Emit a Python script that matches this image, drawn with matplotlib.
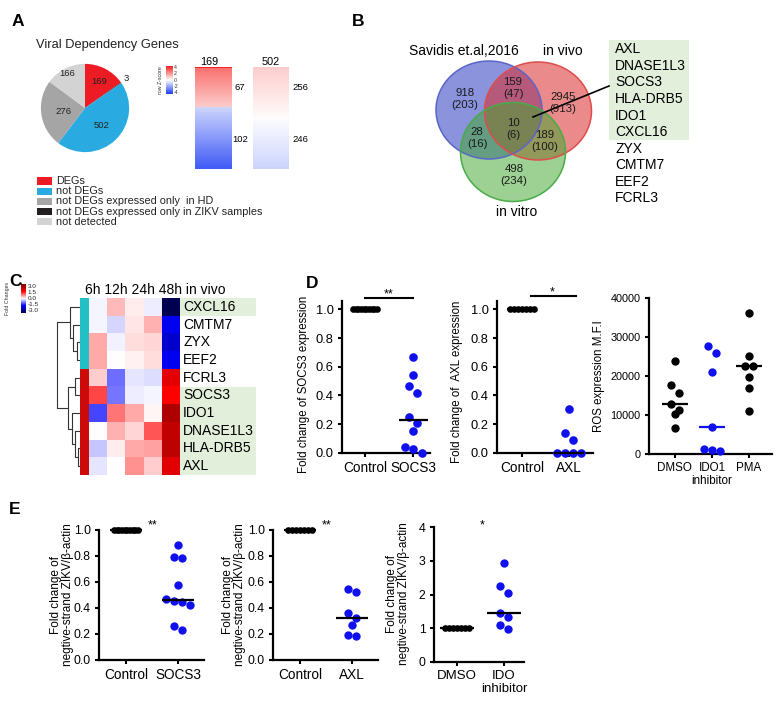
import numpy as np
import matplotlib
matplotlib.use('Agg')
import matplotlib.pyplot as plt
from matplotlib.patches import Ellipse, Rectangle
from matplotlib.colors import LinearSegmentedColormap, ListedColormap

plt.rcParams['font.family'] = ['Liberation Sans', 'DejaVu Sans']

# ======================= DATA =======================
# Panel A
vdg_title = 'Viral Dependency Genes'
vdg_categories = ['DEGs', 'not DEGs', 'not DEGs expressed only  in HD',
                  'not DEGs expressed only in ZIKV samples', 'not detected']
vdg_counts = [169, 502, 276, 3, 166]
vdg_colors = ['#ed1c24', '#29abe2', '#a5a5a5', '#231f20', '#d3d3d3']
pie_order = [0, 3, 1, 2, 4]

bar_totals = [169, 502]
bar_up = [67, 256]
bar_down = [102, 246]
bar_up_z = [(2.6, 0.9), (0.9, 0.05)]
bar_down_z = [(-0.9, -3.4), (-0.05, -0.9)]
bar_top_z = [4.0, None]
zscore_ticks = [4, 2, 0, -2, -4]

# Panel B
venn_sets = ['Savidis et.al,2016', 'in vivo', 'in vitro']
venn_regions = ['100', '110', '010', '111', '101', '011', '001']
venn_all = [918, 159, 2945, 10, 28, 189, 498]
venn_deg = [203, 47, 913, 6, 16, 100, 234]
core_genes = ['AXL', 'DNASE1L3', 'SOCS3', 'HLA-DRB5', 'IDO1', 'CXCL16',
              'ZYX', 'CMTM7', 'EEF2', 'FCRL3']
n_core_highlight = 6

# Panel C
hm_genes = ['CXCL16', 'CMTM7', 'ZYX', 'EEF2', 'FCRL3', 'SOCS3', 'IDO1',
            'DNASE1L3', 'HLA-DRB5', 'AXL']
hm_cols = ['6h', '12h', '24h', '48h', 'in vivo']
hm_values = np.array([
    [-0.05, 0.40, 0.10, -0.10, -3.00],
    [-0.05, -0.25, 0.15, 0.45, -1.60],
    [0.50, -0.08, 0.20, 0.25, -1.90],
    [0.50, 0.00, 0.08, 0.20, -1.60],
    [0.30, -0.85, -0.15, -0.20, 1.80],
    [1.10, -0.80, -0.10, -0.05, 1.50],
    [-1.10, 0.80, 0.50, 0.05, 2.45],
    [0.00, 0.45, 0.25, 1.00, 2.20],
    [-0.35, 0.10, 0.50, 0.55, 2.25],
    [-0.15, 0.00, 0.65, 0.30, 1.85]])
hm_cluster = [0, 0, 0, 0, 1, 1, 1, 1, 1, 1]
hm_highlight = ['CXCL16', 'SOCS3', 'IDO1', 'DNASE1L3', 'HLA-DRB5', 'AXL']
hm_tree = (23.5, (10, 'CXCL16', (7, 'CMTM7', (3, 'ZYX', 'EEF2'))),
           (12, (5, 'FCRL3', 'SOCS3'),
            (8, 'IDO1', (5, 'DNASE1L3', (2, 'HLA-DRB5', 'AXL')))))
fc_ticks = [3.0, 1.5, 0.0, -1.5, -3.0]

# Panel D
d1_groups = ['Control', 'SOCS3']
d1_control = [1.0] * 10
d1_socs3 = [0.665, 0.54, 0.467, 0.42, 0.25, 0.21, 0.153, 0.042, 0.026, 0.0]
d2_groups = ['Control', 'AXL']
d2_control = [1.0] * 7
d2_axl = [0.305, 0.135, 0.088, 0.0, 0.0, 0.0, 0.0]
d3_groups = ['DMSO', 'IDO1\ninhibitor', 'PMA']
d3_dmso = [23950, 17730, 15540, 12860, 11340, 10250, 6640]
d3_ido1 = [27800, 26000, 21000, 7000, 1200, 900, 800]
d3_pma = [36100, 25200, 22600, 22600, 19750, 16800, 11100]

# Panel E
e1_groups = ['Control', 'SOCS3']
e1_control = [1.0] * 10
e1_socs3 = [0.885, 0.795, 0.782, 0.577, 0.467, 0.456, 0.444, 0.42, 0.26, 0.23]
e2_groups = ['Control', 'AXL']
e2_control = [1.0] * 7
e2_axl = [0.549, 0.52, 0.364, 0.326, 0.267, 0.19, 0.185]
e3_groups = ['DMSO', 'IDO\ninhibitor']
e3_dmso = [1.0] * 7
e3_ido = [2.95, 2.25, 2.04, 1.46, 1.34, 1.09, 0.96]

# ======================= FIGURE =======================
W, H = 781, 702
fig = plt.figure(figsize=(W / 100, H / 100), dpi=100)


def px_axes(x0, y0, x1, y1):
    return fig.add_axes([x0 / W, 1 - y1 / H, (x1 - x0) / W, (y1 - y0) / H])


BLUE = '#1010ee'

# ---------- Panel A: pie ----------
axp = px_axes(40, 63, 130, 153)
pvals = [vdg_counts[i] for i in pie_order]
pcols = [vdg_colors[i] for i in pie_order]
wedges, _ = axp.pie(pvals, colors=pcols, startangle=90, counterclock=False,
                    wedgeprops=dict(edgecolor='none', linewidth=0))
axp.set_xlim(-1.02, 1.02)
axp.set_ylim(-1.02, 1.02)
axp.set_aspect('equal')
lab_r = [0.68, 1.15, 0.55, 0.5, 0.88]
for w, v, r in zip(wedges, pvals, lab_r):
    a = np.deg2rad((w.theta1 + w.theta2) / 2)
    axp.text(r * np.cos(a), r * np.sin(a), str(v), ha='center', va='center',
             fontsize=6.8, color='#222222')

# ---------- Panel A: z-score bars ----------
cmap_z = LinearSegmentedColormap.from_list('z', ['#1f3ff5', '#ffffff', '#f5231f'])
for k, (x0, x1) in enumerate([(195, 232), (253, 289)]):
    ax = px_axes(x0, 67, x1, 169)
    up = np.linspace(bar_up_z[k][0], bar_up_z[k][1], bar_up[k])
    if bar_top_z[k] is not None:
        up[:2] = bar_top_z[k]
    dn = np.linspace(bar_down_z[k][0], bar_down_z[k][1], bar_down[k])
    col = np.concatenate([up, dn]).reshape(-1, 1)
    ax.imshow(col, cmap=cmap_z, vmin=-4, vmax=4, aspect='auto',
              interpolation='nearest')
    ax.axis('off')

axc = px_axes(166, 66, 173, 94)
axc.imshow(np.linspace(4, -4, 60).reshape(-1, 1), cmap=cmap_z, vmin=-4, vmax=4,
           aspect='auto', interpolation='bilinear')
axc.axis('off')

# ---------- Panel C: heatmap ----------
cmap_fc = LinearSegmentedColormap.from_list(
    'fc', [(0, '#000050'), (0.25, '#0000ff'), (0.5, '#ffffff'),
           (0.75, '#ff0000'), (1.0, '#800000')])
HM_TOP, HM_BOT = 298, 475
axh = px_axes(89, HM_TOP, 180, HM_BOT)
axh.imshow(hm_values, cmap=cmap_fc, vmin=-3, vmax=3, aspect='auto',
           interpolation='nearest')
axh.axis('off')

axs = px_axes(80, HM_TOP, 89, HM_BOT)
axs.imshow(np.array(hm_cluster).reshape(-1, 1),
           cmap=ListedColormap(['#22c0c4', '#cc0a0a']), aspect='auto',
           interpolation='nearest')
axs.axis('off')

axd = px_axes(54, HM_TOP, 80, HM_BOT)
axd.set_xlim(26, 0)
axd.set_ylim(len(hm_genes), 0)
axd.axis('off')
leaf_pos = {g: i + 0.5 for i, g in enumerate(hm_genes)}


def draw_tree(node):
    if isinstance(node, str):
        return leaf_pos[node], 0.0
    h, left, right = node
    y1, h1 = draw_tree(left)
    y2, h2 = draw_tree(right)
    axd.plot([h1, h, h, h2], [y1, y1, y2, y2], color='#333333', lw=0.8,
             solid_capstyle='butt')
    return (y1 + y2) / 2, h


draw_tree(hm_tree)

axfc = px_axes(21, 284, 26, 313)
axfc.imshow(np.linspace(3, -3, 60).reshape(-1, 1), cmap=cmap_fc, vmin=-3,
            vmax=3, aspect='auto', interpolation='bilinear')
axfc.axis('off')


# ---------- dot plot helper ----------
def swarm_offsets(vals, d_px, ppu_y, max_half=12.0):
    vals = np.asarray(vals, dtype=float)
    order = np.argsort(-vals, kind='stable')
    rows, cur = [], []
    for i in order:
        if cur and (vals[cur[0]] - vals[i]) * ppu_y >= d_px * 1.05:
            rows.append(cur)
            cur = []
        cur.append(i)
    if cur:
        rows.append(cur)
    offs = np.zeros(len(vals))
    for row in rows:
        n = len(row)
        if n < 2:
            continue
        sp = min(d_px, 2 * max_half / (n - 1))
        o = (np.arange(n) - (n - 1) / 2) * sp
        for k, i in enumerate(row):
            offs[i] = o[k]
    return offs


def dot_panel(x0, x1, y_zero, ppu_y, ylim, xlim, groups, data, colors,
              msizes, med_colors, med_hw, yticks, yticklabels, tick_fs,
              cat_fs):
    y_top = y_zero - (ylim[1] - ylim[0]) * ppu_y
    ax = px_axes(x0, y_top, x1, y_zero)
    ax.set_xlim(xlim)
    ax.set_ylim(ylim)
    ppu_x = (x1 - x0) / (xlim[1] - xlim[0])
    for i, vals in enumerate(data):
        d = msizes[i] * 100 / 72
        offs = swarm_offsets(vals, d, ppu_y)
        ax.plot(i + offs / ppu_x, vals, 'o', ms=msizes[i], color=colors[i],
                mec='none', clip_on=False, zorder=3)
        med = np.median(vals)
        ax.plot([i - med_hw, i + med_hw], [med, med], color=med_colors[i],
                lw=1.6, clip_on=False, zorder=4, solid_capstyle='butt')
    for s in ['top', 'right']:
        ax.spines[s].set_visible(False)
    for s in ['left', 'bottom']:
        ax.spines[s].set_linewidth(1.6)
    ax.tick_params(width=1.5, length=3, direction='out', pad=3,
                   labelsize=tick_fs)
    ax.set_xticks(range(len(groups)))
    ax.set_xticklabels(groups, fontsize=cat_fs, linespacing=1.1)
    ax.set_yticks(yticks)
    ax.set_yticklabels(yticklabels)
    ax.set_facecolor('none')
    return ax


frac_ticks = [0, 0.2, 0.4, 0.6, 0.8, 1.0]
frac_labels = ['%.1f' % t for t in frac_ticks]

# Panel D
dot_panel(342, 430, 452.7, 143.3, (0, 1.06), (-0.48, 1.35), d1_groups,
          [d1_control, d1_socs3], ['black', BLUE], [4.8, 6.2],
          ['black', 'black'], 0.3, frac_ticks, frac_labels, 9.3, 9.8)
dot_panel(497, 593, 452.7, 143.3, (0, 1.06), (-0.53, 1.51), d2_groups,
          [d2_control, d2_axl], ['black', BLUE], [4.8, 6.2],
          ['black', 'black'], 0.32, frac_ticks, frac_labels, 9.3, 9.8)
ros_ticks = [0, 10000, 20000, 30000, 40000]
dot_panel(649, 772, 454, 0.0039, (0, 40000), (-0.7, 2.62), d3_groups,
          [d3_dmso, d3_ido1, d3_pma], ['black', BLUE, 'black'], [6.0, 6.0, 6.0],
          ['black', BLUE, 'black'], 0.36, ros_ticks, [str(t) for t in ros_ticks],
          7.8, 8.4)

# Panel E
dot_panel(99, 204, 660, 130, (0, 1.0), (-0.52, 1.5), e1_groups,
          [e1_control, e1_socs3], ['black', BLUE], [4.8, 6.0],
          ['black', 'black'], 0.31, frac_ticks, frac_labels, 8.8, 9.8)
dot_panel(273, 378, 660, 130, (0, 1.0), (-0.52, 1.5), e2_groups,
          [e2_control, e2_axl], ['black', BLUE], [4.8, 6.0],
          ['black', 'black'], 0.31, frac_ticks, frac_labels, 8.8, 9.8)
dot_panel(434, 524, 661.7, 33.6, (0, 4), (-0.49, 1.43), e3_groups,
          [e3_dmso, e3_ido], ['black', BLUE], [4.8, 6.0],
          ['black', 'black'], 0.36, [0, 1, 2, 3, 4], ['0', '1', '2', '3', '4'],
          8.8, 9.5)

# ======================= OVERLAY (text & annotations) =======================
ov = fig.add_axes([0, 0, 1, 1])
ov.set_xlim(0, W)
ov.set_ylim(H, 0)
ov.axis('off')

# panel letters
for lab, (x, y) in zip('ABCDE', [(18, 21), (358, 21), (16, 282), (312, 283),
                                 (15, 510)]):
    ov.text(x, y, lab, fontsize=12.5, fontweight='bold', ha='center',
            va='center')

# A: title, legend, bar labels
ov.text(36, 45, vdg_title, fontsize=9.3, ha='left', va='center',
        color='#222222')
for i, (cat, c) in enumerate(zip(vdg_categories, vdg_colors)):
    y = 181 + i * 10.2
    ov.add_patch(Rectangle((37, y - 3.6), 15, 7.2, facecolor=c,
                           edgecolor='none'))
    ov.text(56, y, cat, fontsize=7.8, ha='left', va='center',
            color='#222222')
for xc, tot in zip([209, 271], bar_totals):
    ov.text(xc, 62, str(tot), fontsize=7.8, ha='center', va='center')
for xc, u, d in zip([240, 300], bar_up, bar_down):
    ov.text(xc, 87.5, str(u), fontsize=6.8, ha='center', va='center')
    ov.text(xc, 139, str(d), fontsize=6.8, ha='center', va='center')
for k, t in enumerate(zscore_ticks):
    ov.text(173.5, 67.5 + k * 6.3, str(t), fontsize=3.8, ha='left',
            va='center', color='#333333')
ov.text(161, 80, 'row Z-score', fontsize=3.8, rotation=90, ha='center',
        va='center', color='#333333')

# B: Venn
ov.add_patch(Ellipse((489, 110), 106, 98, facecolor='#2a3bc0', alpha=0.55,
                     edgecolor='none'))
ov.add_patch(Ellipse((538, 111), 107, 98, facecolor='#d92b2b', alpha=0.55,
                     edgecolor='none'))
ov.add_patch(Ellipse((513, 152), 105, 99, facecolor='#42a830', alpha=0.52,
                     edgecolor='none'))
ov.add_patch(Ellipse((489, 110), 106, 98, facecolor='none',
                     edgecolor='#5a66c8', lw=1.1))
ov.add_patch(Ellipse((538, 111), 107, 98, facecolor='none',
                     edgecolor='#de4c4c', lw=1.1))
ov.add_patch(Ellipse((513, 152), 105, 99, facecolor='none',
                     edgecolor='#48ac48', lw=1.1))
region_xy = {'100': (465, 99), '110': (513, 88), '010': (563, 103),
             '111': (513, 129), '101': (477, 138), '011': (545, 141),
             '001': (514, 175)}
for r, a, b in zip(venn_regions, venn_all, venn_deg):
    x, y = region_xy[r]
    ov.text(x, y, '%d\n(%d)' % (a, b), fontsize=8.2, ha='center',
            va='center', linespacing=1.35, color='#1a1a1a')
ov.text(464, 51, venn_sets[0], fontsize=10, ha='center', va='center')
ov.text(563, 51, venn_sets[1], fontsize=10, ha='center', va='center')
ov.text(517, 212, venn_sets[2], fontsize=10, ha='center', va='center')
ov.add_patch(Rectangle((609, 40), 80, 100, facecolor='#e2efda',
                       edgecolor='none', zorder=0))
for i, g in enumerate(core_genes):
    ov.text(615, 49.3 + i * 16.56, g, fontsize=10, ha='left', va='center')
ov.plot([533, 609], [117, 86], color='black', lw=1.2)

# C: labels
row_h = (HM_BOT - HM_TOP) / len(hm_genes)
for i, g in enumerate(hm_genes):
    yc = HM_TOP + (i + 0.5) * row_h
    if g in hm_highlight:
        ov.add_patch(Rectangle((180, HM_TOP + i * row_h), 76, row_h,
                               facecolor='#e2efda', edgecolor='none',
                               zorder=0))
    ov.text(183, yc, g, fontsize=10, ha='left', va='center')
ov.text(85, 294, ' '.join(hm_cols), fontsize=10, ha='left', va='baseline')
for k, t in enumerate(fc_ticks):
    ov.text(27.5, 286 + k * 6.2, '%.1f' % t, fontsize=4.6, ha='left',
            va='center', color='#222222')
ov.text(8, 298, 'Fold Changes', fontsize=3.8, rotation=90, ha='center',
        va='center', color='#333333')

# D: y labels and significance
ov.text(304, 384, 'Fold change of SOCS3 expression', fontsize=8.3,
        rotation=90, ha='center', va='center')
ov.text(457, 382, 'Fold change of  AXL expression', fontsize=8.3,
        rotation=90, ha='center', va='center')
ov.text(599, 376, 'ROS expression M.F.I', fontsize=8.3, rotation=90,
        ha='center', va='center')
ov.plot([365, 413], [298, 298], color='black', lw=1.5)
ov.text(389, 297, '**', fontsize=9, ha='center', va='baseline')
ov.plot([531, 576], [296, 296], color='black', lw=1.5)
ov.text(552, 295, '*', fontsize=9, ha='center', va='baseline')

# E: y labels and significance
elab = 'Fold change of\nnegtive-strand ZIKV/\u03b2-actin'
for x, yc in [(61.5, 595), (234, 595), (398.5, 594)]:
    ov.text(x, yc, elab, fontsize=8.5, rotation=90, ha='center', va='center',
            linespacing=1.0)
ov.text(153, 528, '**', fontsize=9, ha='center', va='baseline')
ov.text(327, 528, '**', fontsize=9, ha='center', va='baseline')
ov.text(482, 528, '*', fontsize=9, ha='center', va='baseline')

fig.savefig('out.png', dpi=100)
